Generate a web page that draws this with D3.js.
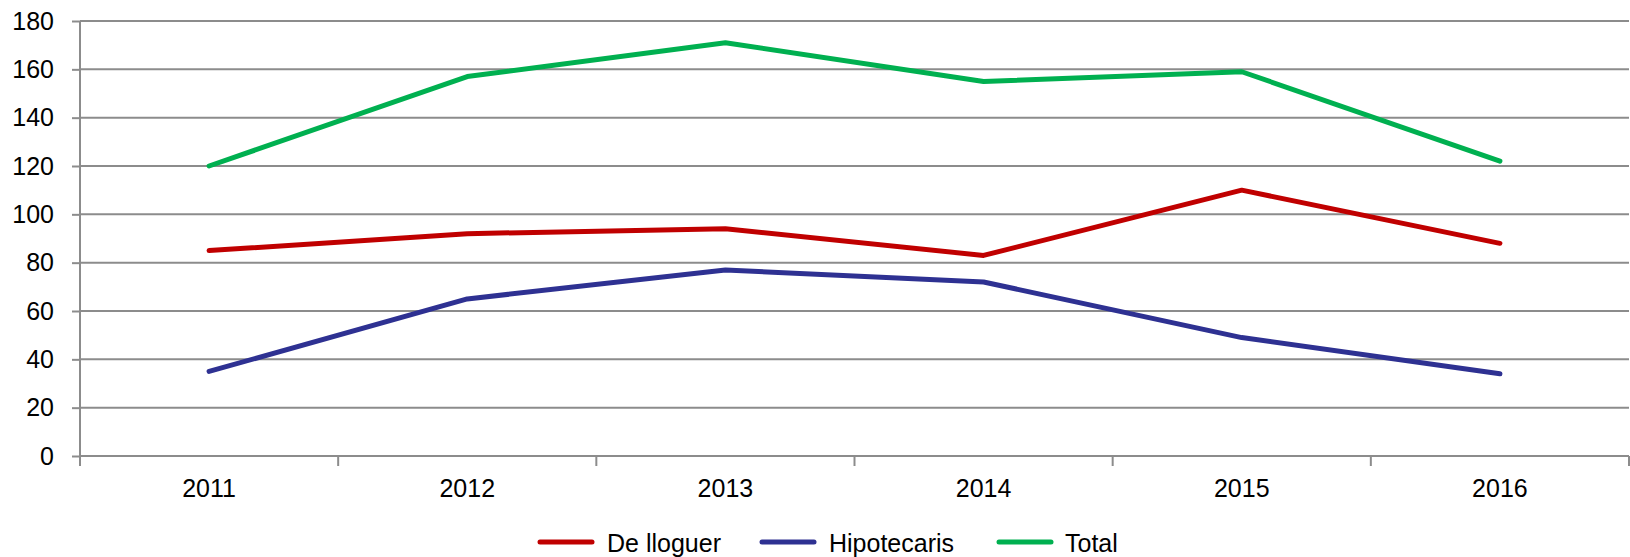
<!DOCTYPE html>
<html>
<head>
<meta charset="utf-8">
<script src="https://cdn.jsdelivr.net/npm/d3@7"></script>
<style>
  html, body { margin: 0; padding: 0; background: #fff; }
  svg { display: block; font-family: "Liberation Sans", Arial, sans-serif; }
</style>
</head>
<body>
<svg id="chart" width="1630" height="557"></svg>
<script>
// Years on the horizontal axis
const years = ["2011", "2012", "2013", "2014", "2015", "2016"];
// Series values
const deLloguer   = [85, 92, 94, 83, 110, 88];
const hipotecaris = [35, 65, 77, 72, 49, 34];
const total       = [120, 157, 171, 155, 159, 122];
// Y tick values
const yTicks = [0, 20, 40, 60, 80, 100, 120, 140, 160, 180];

const seriesNames  = ["De lloguer", "Hipotecaris", "Total"];
const seriesColors = ["#C00000", "#2E3192", "#00B050"];
const seriesData   = [deLloguer, hipotecaris, total];

const svg = d3.select("#chart");
const mLeft = 80, mRight = 1629, mTop = 21, mBottom = 456;
const fontSize = 25;

const x = d3.scaleBand().domain(years).range([mLeft, mRight]).padding(0);
const y = d3.scaleLinear().domain([0, 180]).range([mBottom, mTop]);

const gridColor = "#8c8c8c";

// Horizontal gridlines
svg.append("g")
  .selectAll("line")
  .data(yTicks.filter(d => d > 0))
  .join("line")
  .attr("x1", mLeft).attr("x2", mRight)
  .attr("y1", d => y(d)).attr("y2", d => y(d))
  .attr("stroke", gridColor).attr("stroke-width", 2);

// Y axis
const yAxis = svg.append("g")
  .attr("transform", `translate(${mLeft},0)`)
  .call(d3.axisLeft(y).tickValues(yTicks).tickSize(8).tickPadding(18));
yAxis.select(".domain").remove();
yAxis.selectAll(".tick line").attr("stroke", gridColor).attr("stroke-width", 2);
yAxis.selectAll(".tick text")
  .attr("font-size", fontSize).attr("fill", "#000")
  .attr("font-family", "Liberation Sans, Arial, sans-serif");
svg.append("line")
  .attr("x1", mLeft).attr("x2", mLeft)
  .attr("y1", mTop).attr("y2", mBottom + 10)
  .attr("stroke", gridColor).attr("stroke-width", 2);

// X axis with ticks at category boundaries
svg.append("line")
  .attr("x1", mLeft).attr("x2", mRight)
  .attr("y1", mBottom).attr("y2", mBottom)
  .attr("stroke", gridColor).attr("stroke-width", 2);
const boundaries = years.map(d => x(d)).concat([x(years[years.length - 1]) + x.bandwidth()]);
svg.append("g")
  .selectAll("line")
  .data(boundaries)
  .join("line")
  .attr("x1", d => d).attr("x2", d => d)
  .attr("y1", mBottom).attr("y2", mBottom + 10)
  .attr("stroke", gridColor).attr("stroke-width", 2);
svg.append("g")
  .selectAll("text")
  .data(years)
  .join("text")
  .attr("x", d => x(d) + x.bandwidth() / 2)
  .attr("y", 497)
  .attr("text-anchor", "middle")
  .attr("font-size", fontSize)
  .attr("fill", "#000")
  .text(d => d);

// Series lines
const line = d3.line()
  .x((d, i) => x(years[i]) + x.bandwidth() / 2)
  .y(d => y(d));
seriesData.forEach((vals, k) => {
  svg.append("path")
    .datum(vals)
    .attr("d", line)
    .attr("fill", "none")
    .attr("stroke", seriesColors[k])
    .attr("stroke-width", 5)
    .attr("stroke-linejoin", "round")
    .attr("stroke-linecap", "round");
});

// Legend
const legendItems = [
  { x: 540, tx: 607 },
  { x: 762, tx: 829 },
  { x: 999, tx: 1065 }
];
const legendY = 542;
seriesNames.forEach((name, k) => {
  svg.append("line")
    .attr("x1", legendItems[k].x).attr("x2", legendItems[k].x + 52)
    .attr("y1", legendY).attr("y2", legendY)
    .attr("stroke", seriesColors[k]).attr("stroke-width", 5)
    .attr("stroke-linecap", "round");
  svg.append("text")
    .attr("x", legendItems[k].tx).attr("y", 552)
    .attr("font-size", fontSize).attr("fill", "#000")
    .text(name);
});
</script>
</body>
</html>
